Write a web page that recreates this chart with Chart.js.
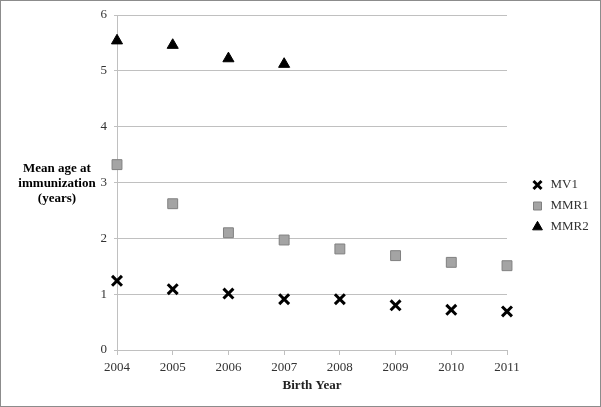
<!DOCTYPE html>
<html>
<head>
<meta charset="utf-8">
<script src="https://cdn.jsdelivr.net/npm/chart.js@4/dist/chart.umd.min.js"></script>
<style>
  html, body { margin: 0; padding: 0; background: #fff; }
  #wrap { width: 601px; height: 407px; }
</style>
</head>
<body>
<div id="wrap"><canvas id="plot" width="601" height="407"></canvas></div>
<script>
const years = [2004, 2005, 2006, 2007, 2008, 2009, 2010, 2011];
const mv1 = [1.24, 1.09, 1.01, 0.91, 0.91, 0.80, 0.72, 0.69];
const mmr1 = [3.32, 2.62, 2.10, 1.97, 1.81, 1.69, 1.57, 1.51];
const mmr2 = [5.54, 5.46, 5.22, 5.12];
const yTitle = ['Mean age at', 'immunization', '(years)'];

const serif = "'Liberation Serif', 'Times New Roman', serif";
const gridColor = '#c0c0c0';

function toPoints(vals) {
  return vals.map((v, i) => ({ x: years[i], y: v }));
}

// y axis title is horizontal in the original, so draw it by hand
const sideTitle = {
  id: 'sideTitle',
  afterInit(chart) {
    // legend box a bit wider so the plot ends where the original does
    const lg = chart.legend;
    const fit = lg.fit;
    lg.fit = function () {
      fit.call(this);
      this.width = 84;
    };
  },
  afterLayout(chart) {
    chart.legend.left += 16;
    chart.legend.right += 16;
  },
  afterDraw(chart) {
    const ctx = chart.ctx;
    ctx.save();
    ctx.font = 'bold 13px ' + serif;
    ctx.fillStyle = '#000';
    ctx.textAlign = 'center';
    ctx.textBaseline = 'middle';
    yTitle.forEach((t, i) => ctx.fillText(t, 57, 169 + i * 15));
    ctx.strokeStyle = '#8c8c8c';
    ctx.lineWidth = 1;
    ctx.strokeRect(0.5, 0.5, chart.width - 1, chart.height - 1);
    ctx.restore();
  }
};

const config = {
  type: 'scatter',
  data: {
    datasets: [
      {
        label: 'MV1',
        data: toPoints(mv1),
        pointStyle: 'crossRot',
        borderColor: '#000',
        backgroundColor: '#000',
        borderWidth: 3,
        pointRadius: 7,
        pointHoverRadius: 7,
        clip: false
      },
      {
        label: 'MMR1',
        data: toPoints(mmr1),
        pointStyle: 'rect',
        borderColor: '#808080',
        backgroundColor: '#a4a4a4',
        borderWidth: 1,
        pointRadius: 7,
        pointHoverRadius: 7,
        clip: false
      },
      {
        label: 'MMR2',
        data: toPoints(mmr2),
        pointStyle: 'triangle',
        borderColor: '#000',
        backgroundColor: '#000',
        borderWidth: 1,
        pointRadius: 6.4,
        pointHoverRadius: 6.4,
        clip: false
      }
    ]
  },
  options: {
    responsive: false,
    animation: false,
    layout: { padding: { left: 10, top: 15, right: 10, bottom: 10 } },
    plugins: {
      legend: {
        position: 'right',
        labels: {
          usePointStyle: true,
          boxHeight: 8,
          padding: 8,
          color: '#333',
          font: { family: serif, size: 13 }
        }
      },
      tooltip: { enabled: false }
    },
    scales: {
      x: {
        type: 'linear',
        min: 2004,
        max: 2011,
        afterFit: s => { s.height = 47; },
        ticks: {
          stepSize: 1,
          color: '#333',
          font: { family: serif, size: 13 },
          callback: v => String(v),
          padding: 5
        },
        grid: { drawOnChartArea: false, drawTicks: true, tickLength: 5, color: gridColor },
        border: { color: gridColor },
        title: {
          display: true,
          text: 'Birth Year',
          color: '#222',
          font: { family: serif, size: 13, weight: 'bold' },
          padding: { top: 2, bottom: 4 }
        }
      },
      y: {
        min: 0,
        max: 6,
        afterFit: s => { s.width = 107; s.paddingTop = 0; s.paddingBottom = 0; },
        ticks: {
          stepSize: 1,
          color: '#333',
          font: { family: serif, size: 13 },
          padding: 7
        },
        grid: { drawTicks: true, tickLength: 3, color: gridColor },
        border: { color: gridColor }
      }
    }
  },
  plugins: [sideTitle]
};

const canvas = document.getElementById('plot');
const myChart = new Chart(canvas, config);
</script>
</body>
</html>
